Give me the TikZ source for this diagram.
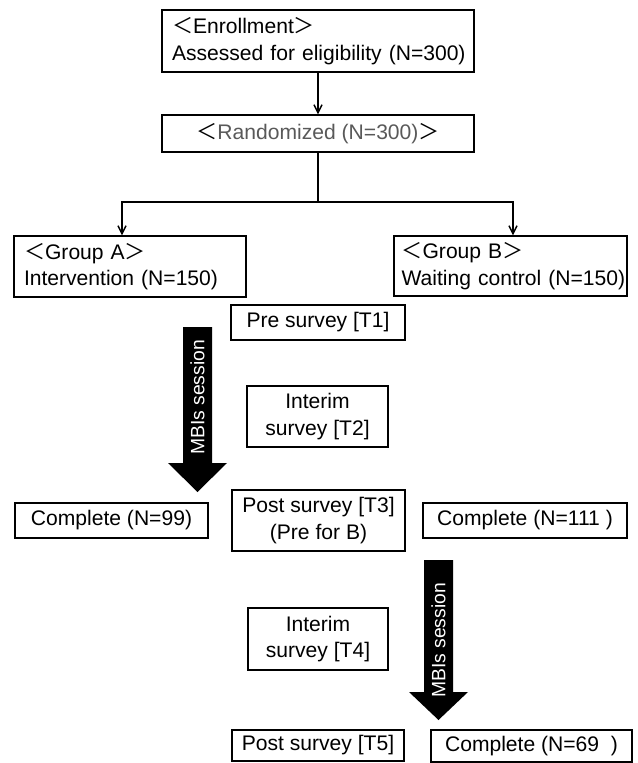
\documentclass[tikz,border=0pt]{standalone}
\usepackage{fontspec}
\setmainfont{Liberation Sans}
\newfontfamily\cjk{Noto Sans CJK JP}
\usepackage{xcolor}
\usepackage{tikz}
\usetikzlibrary{
    arrows.meta,
    positioning,
    calc
}
\definecolor{randgray}{HTML}{595959}
\newcommand{\lbrkt}{{\cjk ＜}}
\newcommand{\rbrkt}{{\cjk ＞}}

\begin{document}
\begin{tikzpicture}[
    box/.style={rectangle, draw, line width=0.8pt, inner sep=0pt, align=center, font=\fontsize{12}{15}\selectfont},
    lbox/.style={box, align=left, inner xsep=0.2cm, text width=#1},
    arr/.style={-{Straight Barb[length=1.6mm, width=1.6mm]}, line width=0.8pt},
    session/.style={rotate=90, text=white, font=\fontsize{11}{13}\selectfont},
]
    \useasboundingbox (0,0) rectangle (12.76,-15.26);

    % Enrollment
    \node[lbox=5.84cm, minimum height=1.24cm] (enroll) at (6.36,-0.82) {\lbrkt Enrollment\rbrkt\\\mbox{Assessed for eligibility (N=300)}};

    % Randomized
    \node[box, minimum width=6.24cm, minimum height=0.74cm] (rand) at (6.36,-2.67) {\lbrkt\textcolor{randgray}{Randomized (N=300)}\rbrkt};
    \draw[arr] (enroll) -- (rand);

    % Groups
    \node[lbox=4.24cm, minimum height=1.22cm] (grpA) at (2.60,-5.33) {\lbrkt Group A\rbrkt\\Intervention (N=150)};
    \node[lbox=4.36cm, inner xsep=0.15cm, minimum height=1.20cm] (grpB) at (10.21,-5.32) {\lbrkt Group B\rbrkt\\\mbox{Waiting control (N=150)}};
    \coordinate (split) at (6.36,-4.04);
    \draw[line width=0.8pt] (rand) -- (split);
    \draw[arr] (split) -| ([xshift=-0.16cm]grpA.north);
    \draw[arr] (split) -| ([xshift=0.05cm]grpB.north);

    % Surveys
    \node[box, minimum width=3.48cm, minimum height=0.70cm] (pre1) at (6.36,-6.45) {Pre survey [T1]};
    \node[box, minimum width=2.82cm, minimum height=1.22cm] (int2) at (6.35,-8.33) {Interim\\survey [T2]};
    \node[box, minimum width=3.46cm, minimum height=1.22cm] (post3) at (6.37,-10.41) {Post survey [T3]\\(Pre for B)};
    \node[box, minimum width=2.80cm, minimum height=1.24cm] (int4) at (6.36,-12.78) {Interim\\survey [T4]};
    \node[box, minimum width=3.44cm, minimum height=0.62cm] (post5) at (6.36,-14.91) {Post survey [T5]};

    % Completed
    \node[box, minimum width=3.86cm, minimum height=0.70cm] (compA) at (2.23,-10.41) {Complete (N=99)};
    \node[box, minimum width=4.08cm, minimum height=0.70cm] (compB) at (10.50,-10.41) {Complete (N=111 )};
    \node[box, minimum width=4.02cm, minimum height=0.64cm] (compC) at (10.63,-14.92) {Complete (N=69\ \ )};

    % MBIs session, group A
    \fill (3.66,-6.54) -- (4.24,-6.54) -- (4.24,-9.26) -- (4.54,-9.26) -- (3.95,-9.84)
        -- (3.36,-9.26) -- (3.66,-9.26) -- cycle;
    \node[session] (sesA) at (3.95,-7.95) {MBIs session};

    % MBIs session, group B
    \fill (8.48,-11.20) -- (9.06,-11.20) -- (9.06,-13.84) -- (9.36,-13.84) -- (8.77,-14.40)
        -- (8.18,-13.84) -- (8.48,-13.84) -- cycle;
    \node[session] (sesB) at (8.77,-12.81) {MBIs session};

\end{tikzpicture}
\end{document}
